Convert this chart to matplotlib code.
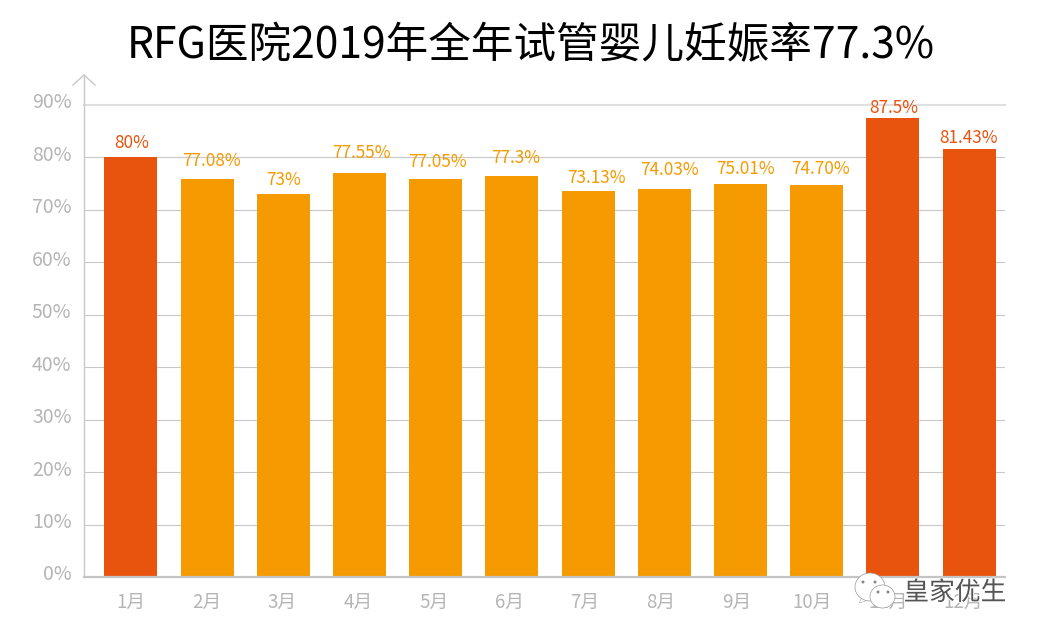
import matplotlib
matplotlib.use("Agg")
import matplotlib.pyplot as plt
import matplotlib.patheffects as pe
from matplotlib.patches import Ellipse, Polygon
from matplotlib.transforms import ScaledTranslation

plt.rcParams['font.family'] = ['Noto Sans CJK SC', 'DejaVu Sans']

W, H = 1040, 639

months = ['1月', '2月', '3月', '4月', '5月', '6月', '7月', '8月', '9月', '10月', '11月', '12月']
# bar heights as drawn, they don't always agree with the printed labels
heights = [80.1, 75.9, 73.0, 77.1, 75.9, 76.5, 73.6, 74.0, 75.0, 74.8, 87.5, 81.6]
labels = ['80%', '77.08%', '73%', '77.55%', '77.05%', '77.3%', '73.13%', '74.03%', '75.01%', '74.70%', '87.5%', '81.43%']
# label offset from bar top centre in px, the labels were placed by hand in the original
label_dx = [0.5, 4, 0, 2, 2, 4, 8, 5, 5, 4, 1, 0]
label_dy = [5, 9, 5, 11, 8, 9, 4, 10, 6, 7, 1, 2]
highlight = [0, 10, 11]
yticks = [0, 10, 20, 30, 40, 50, 60, 70, 80, 90]

ORANGE = '#f59a00'
RED = '#e8530e'
GREY = '#b5b5b5'

fig = plt.figure(figsize=(W / 100, H / 100), dpi=100, facecolor='white')

# axes box: x 84-1005 px, 0% at y=577, 90% at y=105
ax = fig.add_axes([84 / W, 1 - 577 / H, (1005 - 84) / W, (577 - 105) / H])
ax.set_xlim((84 - 130.8) / 76.2, (1005 - 130.8) / 76.2)
ax.set_ylim(0, 90)
ax.patch.set_alpha(0)
for s in ['top', 'right', 'left']:
    ax.spines[s].set_visible(False)
ax.spines['bottom'].set_color('#c4c4c4')
ax.spines['bottom'].set_linewidth(1.6)

for t in yticks[1:]:
    if t == 90:
        ax.axhline(t, color='#e0e0e0', lw=1.5, zorder=1, clip_on=False)
    else:
        ax.axhline(t, color='#c8c8c8', lw=0.8, zorder=1)

for i, h in enumerate(heights):
    c = RED if i in highlight else ORANGE
    ax.bar(i, h, width=53 / 76.2, color=c, zorder=2)
    ax.annotate(labels[i], (i, h), xytext=(label_dx[i] * 0.72, label_dy[i] * 0.72), textcoords='offset points',
                ha='center', va='bottom', fontsize=12.4, color=c, zorder=3)

# month labels run a little tighter than the bars
ax.set_xticks([i * 75.7 / 76.2 for i in range(12)])
ax.set_xticklabels(months, fontsize=13.5, color=GREY)
ax.set_yticks(yticks)
ax.set_yticklabels([f'{t}%' for t in yticks], fontsize=14, color=GREY)
ax.tick_params(axis='both', length=0)
ax.tick_params(axis='x', pad=11)
ax.tick_params(axis='y', pad=9)
# y labels sit just above their grid lines
up = ScaledTranslation(0, 4.5 / 100, fig.dpi_scale_trans)
for lab in ax.get_yticklabels():
    lab.set_transform(lab.get_transform() + up)

fig.text(531 / W, 1 - 46 / H, 'RFG医院2019年全年试管婴儿妊娠率77.3%', ha='center', va='center',
         fontsize=30.7, color='black')


def px(x, y):
    return x / W, 1 - y / H


# y axis arrow, drawn in figure coordinates
fig.add_artist(plt.Line2D([84 / W, 84 / W], [1 - 577 / H, 1 - 75 / H], color='#c8c8c8', lw=1))
fig.add_artist(plt.Line2D([73 / W, 84 / W, 95 / W], [1 - 85 / H, 1 - 75 / H, 1 - 85 / H], color='#c8c8c8', lw=1))

# watermark
fig.add_artist(Polygon([px(862, 597), px(859, 603), px(869, 600)], closed=True, facecolor='white',
                       edgecolor='#bbbbbb', lw=0.5, transform=fig.transFigure, zorder=5))
for cx, cy, rx, ry in [(870, 587, 15, 14), (882.5, 596.5, 12.5, 11.5)]:
    fig.add_artist(Ellipse(px(cx, cy), 2 * rx / W, 2 * ry / H, facecolor='white', edgecolor='#999999',
                           lw=0.5, transform=fig.transFigure, zorder=5))
for ex, ey in [(863, 582), (875, 582), (878, 592), (888, 592)]:
    fig.add_artist(Ellipse(px(ex, ey), 3 / W, 3 / H, facecolor='#888888', edgecolor='none',
                           transform=fig.transFigure, zorder=6))
fig.text(955 / W, 1 - 593 / H, '皇家优生', ha='center', va='center', fontsize=18.5, color='#555555',
         zorder=6, path_effects=[pe.withStroke(linewidth=1.2, foreground='white')])

fig.savefig('out.png', dpi=100)
